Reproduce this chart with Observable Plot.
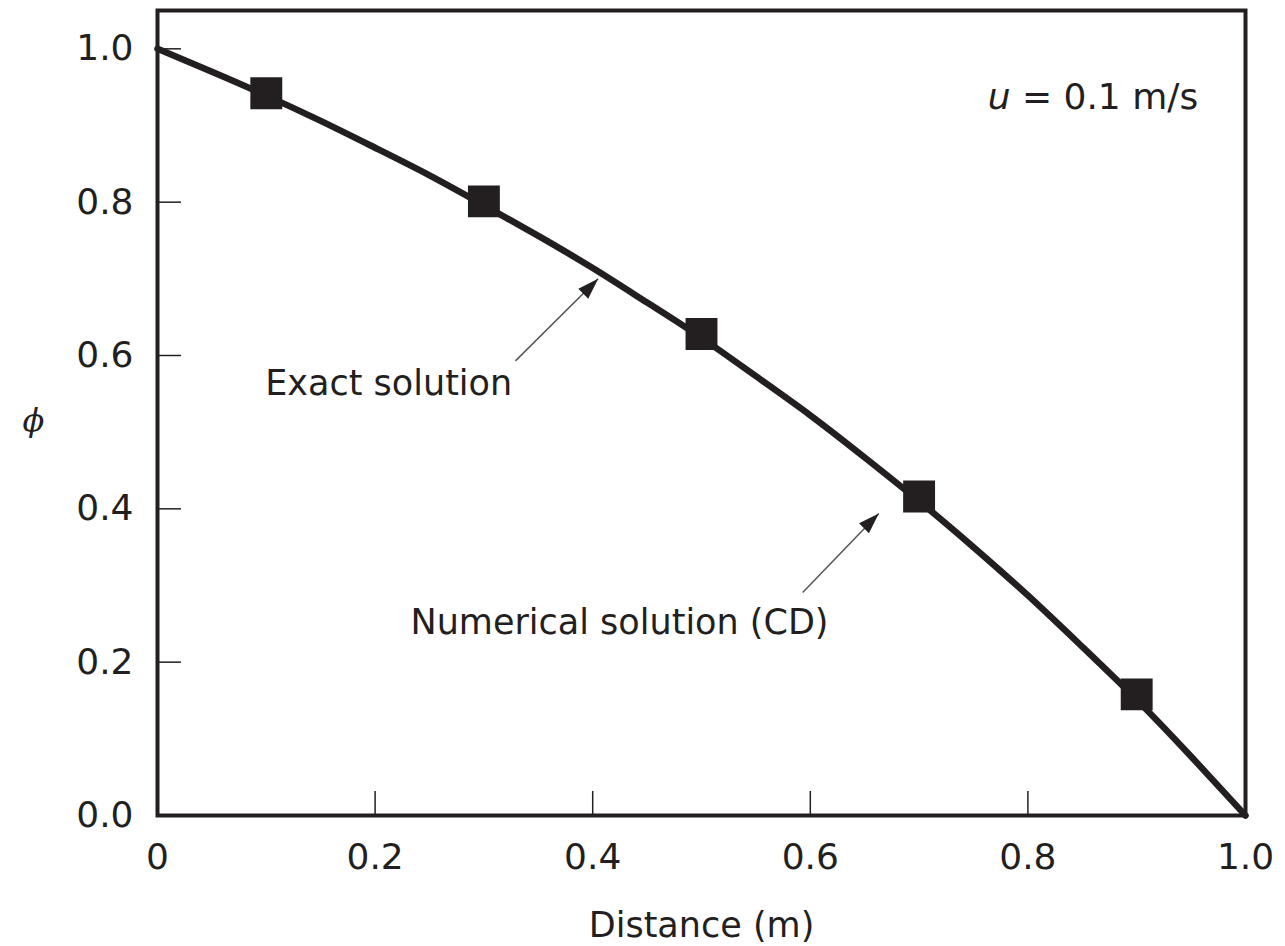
<!DOCTYPE html>
<html><head><meta charset="utf-8">
<script src="https://cdn.jsdelivr.net/npm/d3@7"></script>
<script src="https://cdn.jsdelivr.net/npm/@observablehq/plot@0.6"></script>
<style>body{margin:0;background:#fff}</style>
</head><body><div id="chart"></div>
<script>
// Exact solution
const xExact = [0, 0.05, 0.1, 0.15, 0.2, 0.25, 0.3, 0.35, 0.4, 0.45, 0.5, 0.55, 0.6, 0.65, 0.7, 0.75, 0.8, 0.85, 0.9, 0.95, 1.0];
const phiExact = [1.0, 0.970, 0.939, 0.906, 0.871, 0.835, 0.796, 0.756, 0.714, 0.669, 0.623, 0.573, 0.522, 0.467, 0.410, 0.350, 0.287, 0.220, 0.151, 0.077, 0.0];
// Numerical solution (CD) markers
const xNum = [0.1, 0.3, 0.5, 0.7, 0.9];
const phiNum = [0.942, 0.801, 0.628, 0.416, 0.158];
// Ticks
const xTicks = [0, 0.2, 0.4, 0.6, 0.8, 1.0];
const xTickLabels = ["0", "0.2", "0.4", "0.6", "0.8", "1.0"];
const yTicks = [0, 0.2, 0.4, 0.6, 0.8, 1.0];
const yTickLabels = ["0.0", "0.2", "0.4", "0.6", "0.8", "1.0"];
// Annotations
const annoText = ["Exact solution", "Numerical solution (CD)"];
const annoX = [0.099, 0.2325];
const annoY = [0.563, 0.252];
const arrowX1 = [0.329, 0.593];
const arrowY1 = [0.593, 0.291];
const arrowX2 = [0.405, 0.663];
const arrowY2 = [0.700, 0.394];
const paramText = "u = 0.1 m/s";

const ink = "#231f20";
const font = "DejaVu Sans";

const exact = xExact.map((x, i) => ({x, y: phiExact[i]}));
const numer = xNum.map((x, i) => ({x, y: phiNum[i]}));
const annos = annoText.map((t, i) => ({t, x: annoX[i], y: annoY[i]}));
const arrows = arrowX1.map((x1, i) => ({x1, y1: arrowY1[i], x2: arrowX2[i], y2: arrowY2[i]}));

const arrowHead = {
  draw(ctx) {
    ctx.moveTo(0, 0);
    ctx.lineTo(7, 21);
    ctx.lineTo(-7, 21);
    ctx.closePath();
  }
};

const chart = Plot.plot({
  width: 1285,
  height: 946,
  marginLeft: 157,
  marginRight: 40,
  marginTop: 10,
  marginBottom: 131,
  style: {fontFamily: font, fontSize: "36px", color: ink, background: "#fff"},
  x: {domain: [0, 1]},
  y: {domain: [0, 1.05]},
  marks: [
    Plot.axisX(xTicks, {tickSize: -24, tickFormat: () => "", stroke: ink, strokeWidth: 1.5, label: null}),
    Plot.axisY(yTicks, {tickSize: -24, tickFormat: () => "", stroke: ink, strokeWidth: 1.5, label: null}),
    Plot.axisX(xTicks, {tickSize: 0, tickPadding: 28, tickFormat: d => xTickLabels[xTicks.indexOf(d)], fill: ink, fontSize: 36, label: null}),
    Plot.axisY(yTicks, {tickSize: 0, tickPadding: 24, tickFormat: d => yTickLabels[yTicks.indexOf(d)], fill: ink, fontSize: 36, label: null}),
    Plot.line(exact, {x: "x", y: "y", stroke: ink, strokeWidth: 6.5, curve: "natural"}),
    Plot.dot(numer, {x: "x", y: "y", symbol: "square", r: 18, fill: ink, stroke: null}),
    Plot.link(arrows, {x1: "x1", y1: "y1", x2: "x2", y2: "y2", stroke: "#555", strokeWidth: 1.5}),
    Plot.dot(arrows, {x: "x2", y: "y2", symbol: arrowHead, rotate: 45, fill: ink, stroke: null}),
    Plot.text(annos, {x: "x", y: "y", text: "t", textAnchor: "start", lineAnchor: "middle", fill: ink, fontSize: 35}),
    Plot.text([paramText], {x: 0.763, y: 0.936, text: d => d, textAnchor: "start", lineAnchor: "middle", fill: ink, fontSize: 36, className: "param"}),
    Plot.text(["Distance (m)"], {frameAnchor: "bottom", dy: 110, text: d => d, lineAnchor: "middle", fill: ink, fontSize: 35}),
    Plot.text(["\u03d5"], {frameAnchor: "left", dx: -135, dy: 8, text: d => d, lineAnchor: "middle", fill: ink, fontSize: 32, fontStyle: "italic", fontFamily: "DejaVu Serif"}),
    Plot.frame({stroke: ink, strokeWidth: 4})
  ]
});
document.getElementById("chart").appendChild(chart);
// italicize the "u"
chart.querySelectorAll("g.param text").forEach(t => {
  const s = t.textContent;
  if (s.startsWith("u")) {
    t.textContent = "";
    const a = document.createElementNS("http://www.w3.org/2000/svg", "tspan");
    a.setAttribute("font-style", "italic");
    a.textContent = "u";
    const b = document.createElementNS("http://www.w3.org/2000/svg", "tspan");
    b.textContent = s.slice(1);
    t.appendChild(a); t.appendChild(b);
  }
});
</script></body></html>
